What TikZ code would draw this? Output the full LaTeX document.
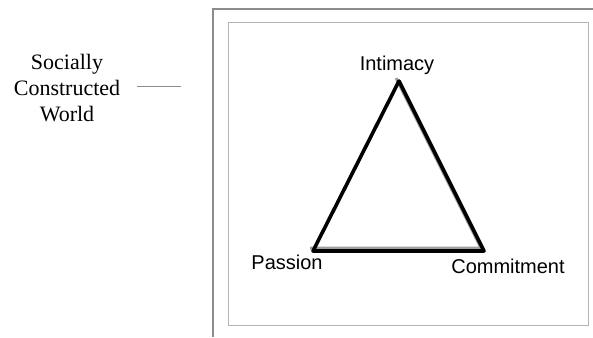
\documentclass[tikz,border=0pt]{standalone}
\usepackage{fontspec}
\setmainfont{Liberation Serif}
\newfontfamily\arialfont{Liberation Sans}
\usetikzlibrary{positioning}
\definecolor{framegray}{HTML}{8C8C8C}
\definecolor{innergray}{HTML}{B4B4B4}
\definecolor{shadegray}{HTML}{A0A0A0}

\begin{document}
\begin{tikzpicture}[x=1pt, y=-1pt,
  every node/.style={inner sep=0pt},
  corner/.style={font=\arialfont\fontsize{20}{24}\selectfont, anchor=base}]
  \useasboundingbox (0,0) rectangle (593,337);

  % Frames
  \draw[framegray, line width=1.2pt] (593,9) -| (213,337);
  \draw[innergray, line width=1pt] (228,23) rectangle (588,325);

  % Left label
  \node[align=center, font=\fontsize{22}{26}\selectfont] (world) at (67,88) {
    Socially\\
    Constructed\\
    World
  };
  \coordinate (linestart) at (137,86);
  \coordinate (lineend) at (181,86);
  \draw[framegray, line width=0.8pt] (linestart) -- (lineend);

  % Triangle
  \coordinate (top) at (399,81);
  \coordinate (left) at (313,251);
  \coordinate (right) at (484,251);
  \draw[shadegray, line width=3pt, line join=round]
    ([shift={(-3,-3)}]top) -- ([shift={(-3,-3)}]right) -- ([shift={(-3,-3)}]left);
  \draw[line width=3.6pt, line join=round] (top) -- (right) -- (left) -- cycle;

  % Corner labels
  \node[corner] (intimacy) at (397,70) {Intimacy};
  \node[corner] (passion) at (287,269) {Passion};
  \node[corner] (commitment) at (508,273) {Commitment};
\end{tikzpicture}
\end{document}
